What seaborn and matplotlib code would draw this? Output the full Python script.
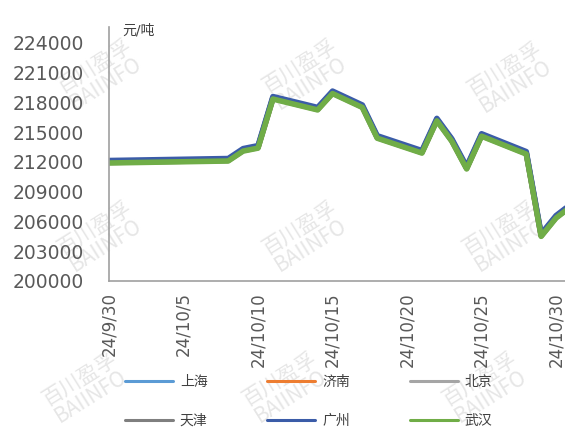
import pandas as pd
import matplotlib.pyplot as plt
import seaborn as sns

sns.set_theme(style='white')
plt.rcParams['font.family'] = ['DejaVu Sans', 'Noto Sans CJK SC']

dates = ['2024-09-30', '2024-10-08', '2024-10-09', '2024-10-10', '2024-10-11',
         '2024-10-14', '2024-10-15', '2024-10-16', '2024-10-17', '2024-10-18',
         '2024-10-21', '2024-10-22', '2024-10-23', '2024-10-24', '2024-10-25',
         '2024-10-28', '2024-10-29', '2024-10-30', '2024-10-31']

shanghai = [212050, 212250, 213250, 213550, 218500, 217400, 219050, 218350, 217650, 214550,
            213050, 216300, 214250, 211450, 214750, 212950, 204650, 206500, 207650]
jinan = [212000, 212200, 213200, 213500, 218450, 217350, 219000, 218300, 217600, 214500,
         213000, 216250, 214200, 211400, 214700, 212900, 204600, 206450, 207600]
beijing = [212000, 212200, 213200, 213500, 218450, 217350, 219000, 218300, 217600, 214500,
           213000, 216250, 214200, 211400, 214700, 212900, 204600, 206450, 207600]
tianjin = [211950, 212150, 213150, 213450, 218400, 217300, 218950, 218250, 217550, 214450,
           212950, 216200, 214150, 211350, 214650, 212850, 204550, 206400, 207550]
guangzhou = [212150, 212350, 213350, 213650, 218600, 217500, 219150, 218450, 217750, 214650,
             213150, 216400, 214350, 211550, 214850, 213050, 204750, 206600, 207750]
wuhan = [211900, 212100, 213100, 213400, 218350, 217250, 218900, 218200, 217500, 214400,
         212900, 216150, 214100, 211300, 214600, 212800, 204500, 206350, 207500]

cities = ['上海', '济南', '北京', '天津', '广州', '武汉']
series = [shanghai, jinan, beijing, tianjin, guangzhou, wuhan]
colors = ['#5b9bd5', '#ed7d31', '#a5a5a5', '#7f7f7f', '#3b5ca8', '#70ad47']

yticks = list(range(200000, 224001, 3000))
xticks = pd.date_range('2024-09-30', periods=7, freq='5D')

rows = []
for city, vals in zip(cities, series):
    for d, v in zip(dates, vals):
        rows.append({'date': pd.Timestamp(d), 'city': city, 'price': v})
df = pd.DataFrame(rows)

fig = plt.figure(figsize=(5.65, 4.32), dpi=100)
ax = fig.add_axes([109 / 565, 1 - 281 / 432, 456 / 565, 254 / 432])
ax.patch.set_visible(False)

sns.lineplot(ax=ax, data=df, x='date', y='price', hue='city', hue_order=cities,
             palette=dict(zip(cities, colors)), linewidth=4, legend=True)

ax.set_xlim(pd.Timestamp('2024-09-30'), pd.Timestamp('2024-09-30') + pd.Timedelta(days=30.6))
ax.set_ylim(200000, 225613)
ax.set_yticks(yticks)
ax.set_yticklabels([str(v) for v in yticks])
ax.set_xticks(xticks)
ax.set_xticklabels([f'{d.year % 100}/{d.month}/{d.day}' for d in xticks])
ax.tick_params(axis='y', labelsize=13.5, labelcolor='#595959', length=0, pad=18)
ax.tick_params(axis='x', labelsize=12, labelcolor='#595959', length=0, pad=8, labelrotation=90)
ax.set_xlabel('')
ax.set_ylabel('')
for s in ['top', 'right']:
    ax.spines[s].set_visible(False)
for s in ['left', 'bottom']:
    ax.spines[s].set_color('#a0a0a0')
    ax.spines[s].set_linewidth(1.2)

fig.text(122 / 565, 1 - 30 / 432, '元/吨', fontsize=10, color='#404040', va='center', ha='left')

handles, labels = ax.get_legend_handles_labels()
ax.get_legend().remove()
for h in handles:
    h.set_linewidth(2.2)
# legend fills column by column, so reorder to read row by row
order = [0, 3, 1, 4, 2, 5]
fig.legend([handles[i] for i in order], [labels[i] for i in order], ncol=3, loc='upper left',
           bbox_to_anchor=(125 / 565, 1 - 375 / 432),
           frameon=False, fontsize=10, handlelength=3.45, handletextpad=0.5,
           columnspacing=4.3, labelspacing=1.8, borderpad=0, borderaxespad=0,
           labelcolor='#404040')

# watermark
for cx, cy in [(100, 75), (305, 75), (510, 78), (100, 237), (305, 237), (505, 237),
               (85, 388), (285, 388), (485, 388)]:
    fig.text(cx / 565, 1 - cy / 432, '百川盈孚\nBAIINFO', fontsize=15, color='#e6e6e6',
             rotation=32, ha='center', va='center', ma='center', zorder=-1,
             family=['Noto Sans CJK SC', 'DejaVu Sans'], linespacing=0.95)

fig.savefig('out.png', dpi=100)
